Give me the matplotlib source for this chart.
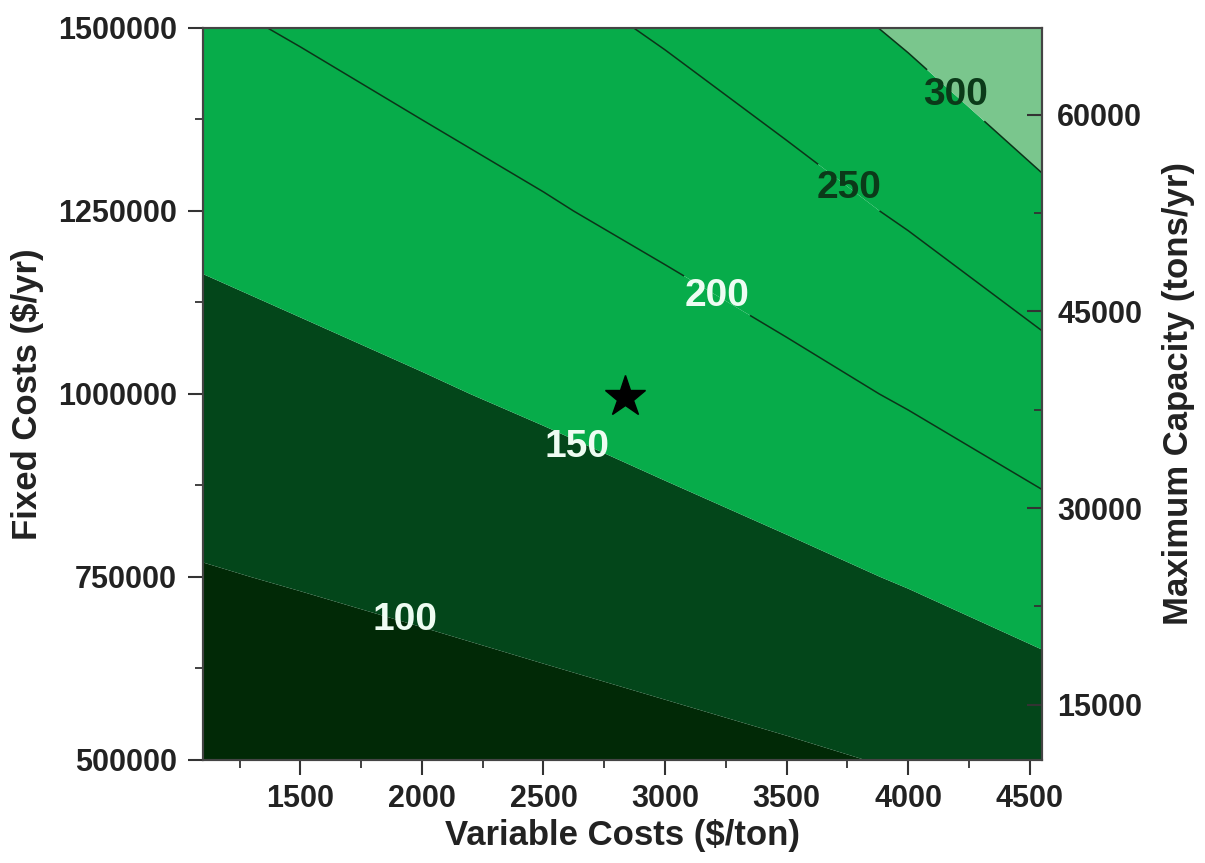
import matplotlib
matplotlib.use('Agg')
import matplotlib.pyplot as plt
import numpy as np
from matplotlib.ticker import MultipleLocator, FixedLocator

# ---------------- data ----------------
variable_costs = [1100, 1500, 2000, 2500, 3000, 3500, 4000, 4550]   # $/ton (grid columns)
fixed_costs = [500000, 750000, 1000000, 1250000, 1500000]           # $/yr (grid rows)
# estimated contour value at each grid node (rows = fixed costs)
value_row_500k = [65.8, 69.2, 74.1, 79.8, 86.3, 94.0, 103.3, 115.8]
value_row_750k = [97.5, 102.6, 109.8, 118.2, 127.9, 139.3, 153.2, 172.5]
value_row_1000k = [129.1, 135.9, 145.6, 156.7, 169.9, 185.6, 204.5, 230.0]
value_row_1250k = [161.0, 169.6, 181.8, 195.9, 212.5, 232.1, 255.5, 287.9]
value_row_1500k = [193.1, 203.5, 218.3, 235.3, 255.1, 278.5, 307.0, 346.2]

fill_levels = [0, 100, 150, 200, 250, 300, 400]
fill_colors = ['#012906', '#03461a', '#07ac4a', '#07ac4a', '#07ac4a', '#7ac68d']
line_levels = [200, 250, 300]

# contour label texts and positions (variable cost, fixed cost)
plain_labels = ['100', '150']
plain_label_x = [1929, 2638]
plain_label_y = [691000, 928000]
line_label_x = [3206, 3763, 4196]
line_label_y = [1130000, 1285000, 1408000]
line_label_colors = ['#eefcf2', '#0b3a19', '#0b3a19']

star_x = [2835]
star_y = [996000]

x_limits = (1100, 4550)
y_limits = (500000, 1500000)
x_ticks = [1500, 2000, 2500, 3000, 3500, 4000, 4500]
y_ticks = [500000, 750000, 1000000, 1250000, 1500000]
capacity_ticks = [15000, 30000, 45000, 60000]
capacity_limits = (10800, 66600)

# ---------------- plotting ----------------
plt.rcParams['font.family'] = ['Liberation Sans', 'DejaVu Sans']
plt.rcParams['font.weight'] = 'bold'
plt.rcParams['axes.labelweight'] = 'bold'

fig = plt.figure(figsize=(12.05, 8.63), dpi=100)
ax = fig.add_axes([0.1685, 0.1194, 0.6962, 0.8482])

X, Y = np.meshgrid(variable_costs, fixed_costs)
Z = np.array([value_row_500k, value_row_750k, value_row_1000k,
              value_row_1250k, value_row_1500k])

ax.contourf(X, Y, Z, levels=fill_levels, colors=fill_colors, antialiased=True)
cs = ax.contour(X, Y, Z, levels=line_levels, colors='#0b3318', linewidths=1.1)

lbls = ax.clabel(cs, levels=line_levels, inline=True, inline_spacing=6,
                 fmt='%d', fontsize=28,
                 manual=list(zip(line_label_x, line_label_y)))
for t in lbls:
    t.set_rotation(0)
    t.set_fontweight('bold')
    lv = int(t.get_text())
    t.set_color(line_label_colors[line_levels.index(lv)])

for txt, lx, ly in zip(plain_labels, plain_label_x, plain_label_y):
    ax.text(lx, ly, txt, color='#eefcf2', fontsize=28, fontweight='bold',
            ha='center', va='center')

ax.plot(star_x, star_y, marker='*', color='black', markersize=31, linestyle='none')

ax.set_xlim(*x_limits)
ax.set_ylim(*y_limits)
ax.xaxis.set_major_locator(FixedLocator(x_ticks))
ax.xaxis.set_minor_locator(MultipleLocator(250))
ax.yaxis.set_major_locator(FixedLocator(y_ticks))
ax.yaxis.set_minor_locator(MultipleLocator(125000))
ax.ticklabel_format(axis='y', style='plain')

tick_color = '#333333'
ax.tick_params(axis='both', which='major', direction='out', length=11, width=1.5,
               color=tick_color, labelsize=22, labelcolor='#222222')
ax.tick_params(axis='both', which='minor', direction='out', length=6, width=1.3,
               color=tick_color)
ax.tick_params(axis='x', which='major', pad=6)
ax.tick_params(axis='y', which='major', pad=8)
ax.tick_params(top=False, right=False, which='both')

ax.set_xlabel('Variable Costs ($/ton)', fontsize=25, color='#222222', labelpad=4)
ax.set_ylabel('Fixed Costs ($/yr)', fontsize=25, color='#222222', labelpad=10)

ax2 = ax.twinx()
ax2.set_ylim(*capacity_limits)
ax2.yaxis.set_major_locator(FixedLocator(capacity_ticks))
ax2.yaxis.set_minor_locator(MultipleLocator(7500))
ax2.tick_params(axis='y', which='major', direction='in', length=11, width=1.5,
                color=tick_color, labelsize=22, labelcolor='#222222', pad=11)
ax2.tick_params(axis='y', which='minor', direction='in', length=6, width=1.3,
                color=tick_color)
ax2.set_ylabel('Maximum Capacity (tons/yr)', fontsize=25, color='#222222', labelpad=14)

for a in (ax, ax2):
    for s in a.spines.values():
        s.set_color('#444444')
        s.set_linewidth(1.5)
ax.spines['top'].set_color('#777777')

fig.savefig('out.png', dpi=100)
